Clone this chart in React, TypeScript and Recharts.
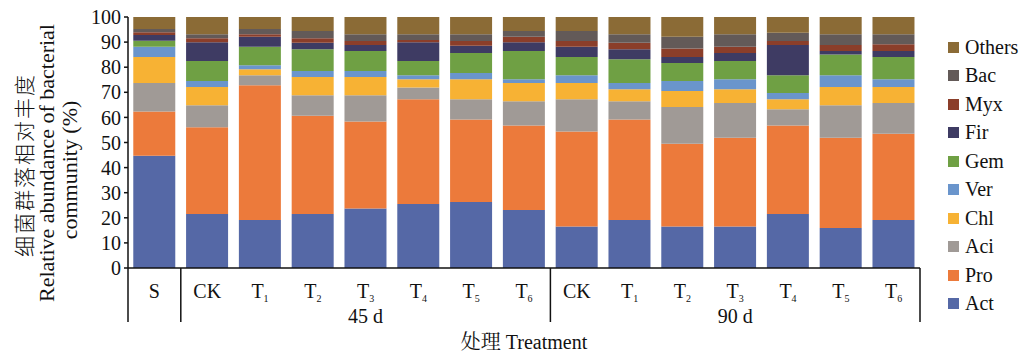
import { BarChart, Bar, XAxis, YAxis, Legend } from "recharts";

const FONT = "'Liberation Serif', 'Times New Roman', 'Noto Serif CJK SC', 'Noto Sans CJK SC', serif";
const CJK = "'Noto Sans CJK SC', 'Noto Sans CJK JP', sans-serif";

// 15 samples: soil S, then CK/T1..T6 at 45 d and at 90 d
const ids = ["S", "CK45", "T1_45", "T2_45", "T3_45", "T4_45", "T5_45", "T6_45", "CK90", "T1_90", "T2_90", "T3_90", "T4_90", "T5_90", "T6_90"];
const labels = ["S", "CK", "T1", "T2", "T3", "T4", "T5", "T6", "CK", "T1", "T2", "T3", "T4", "T5", "T6"];
const groups = ["45 d", "90 d"];

const act = [44.7, 21.5, 19.1, 21.5, 23.7, 25.5, 26.3, 23.1, 16.5, 19.1, 16.5, 16.5, 21.5, 15.9, 19.1];
const pro = [17.7, 34.6, 53.7, 39.2, 34.7, 41.7, 32.9, 33.7, 37.9, 40.1, 33.0, 35.4, 35.3, 36.0, 34.4];
const aci = [11.3, 8.7, 4.0, 8.1, 10.4, 4.7, 8.0, 9.6, 12.8, 7.2, 14.6, 13.8, 6.4, 12.9, 12.2];
const chl = [10.4, 7.3, 2.4, 7.3, 7.3, 3.3, 8.0, 7.3, 6.5, 4.8, 6.4, 5.5, 4.0, 7.3, 6.4];
const ver = [4.0, 2.4, 1.6, 2.4, 2.4, 1.6, 2.5, 1.5, 3.1, 2.5, 4.0, 4.0, 2.5, 4.7, 3.1];
const gem = [2.4, 8.0, 7.3, 8.7, 8.0, 5.7, 8.0, 11.3, 7.3, 9.5, 7.2, 7.3, 7.1, 8.3, 8.9];
const fir = [2.3, 7.4, 4.0, 2.5, 2.3, 7.4, 2.8, 3.4, 4.0, 4.0, 2.4, 3.2, 12.0, 1.4, 2.4];
const myx = [1.1, 1.6, 1.0, 1.8, 1.6, 0.9, 1.9, 2.2, 2.3, 2.5, 3.4, 2.4, 1.6, 2.3, 2.6];
const bac = [1.3, 1.6, 2.1, 2.9, 2.7, 2.3, 2.7, 2.3, 4.0, 3.4, 4.6, 5.0, 3.3, 4.3, 4.0];
const others = [4.8, 6.9, 4.8, 5.6, 6.9, 6.9, 6.9, 5.6, 5.6, 6.9, 7.9, 6.9, 6.3, 6.9, 6.9];

const yTicks = [0, 10, 20, 30, 40, 50, 60, 70, 80, 90, 100];

const series = [
  { key: "Act", values: act, color: "#5568a6" },
  { key: "Pro", values: pro, color: "#ec7a3b" },
  { key: "Aci", values: aci, color: "#a09a96" },
  { key: "Chl", values: chl, color: "#f7b234" },
  { key: "Ver", values: ver, color: "#6a95cc" },
  { key: "Gem", values: gem, color: "#6fa044" },
  { key: "Fir", values: fir, color: "#3e3b63" },
  { key: "Myx", values: myx, color: "#8b3e2a" },
  { key: "Bac", values: bac, color: "#635a58" },
  { key: "Others", values: others, color: "#8b6b36" },
];

const data = ids.map((id, i) => {
  const row: Record<string, string | number> = { id };
  series.forEach((s) => (row[s.key] = s.values[i]));
  return row;
});

function CategoryTick(props: any) {
  const { x, y, payload, index } = props;
  const half = payload?.offset ?? 26.4;
  const label = labels[index];
  const sub = label.startsWith("T") ? label.slice(1) : "";
  const main = sub ? "T" : label;
  const lines: number[] = [];
  if (index === 0) lines.push(x - half);
  if (index === 0 || index === 7 || index === 14) lines.push(x + half);
  return (
    <g>
      <text x={x} y={y + 30} textAnchor="middle" fontFamily={FONT} fontSize={20} fill="#111">
        {main}
        {sub && (
          <tspan fontSize={10} dy={4}>
            {sub}
          </tspan>
        )}
      </text>
      {(index === 4 || index === 11) && (
        <text x={x} y={y + 55} textAnchor="middle" fontFamily={FONT} fontSize={20} fill="#111">
          {groups[index === 4 ? 0 : 1]}
        </text>
      )}
      {lines.map((lx) => (
        <line key={lx} x1={lx} x2={lx} y1={y} y2={y + 54} stroke="#111" strokeWidth={1.5} />
      ))}
    </g>
  );
}

function YTitle() {
  const rows = [
    { text: "细菌群落相对丰度", x: 23, cy: 166, size: 21, family: CJK, len: 182 },
    { text: "Relative abundance of bacterial", x: 46, cy: 163, size: 22, family: FONT, len: 0 },
    { text: "community (%)", x: 69, cy: 170, size: 22, family: FONT, len: 0 },
  ];
  return (
    <g>
      {rows.map((r) => (
        <text
          key={r.text}
          x={r.x}
          y={r.cy}
          transform={`rotate(-90 ${r.x} ${r.cy})`}
          textAnchor="middle"
          dominantBaseline="central"
          fontFamily={r.family}
          fontSize={r.size}
          fontWeight={300}
          fill="#111"
          {...(r.len ? { textLength: r.len, lengthAdjust: "spacing" } : {})}
        >
          {r.text}
        </text>
      ))}
    </g>
  );
}

function LegendBox() {
  return (
    <div style={{ fontFamily: FONT, fontSize: 20, color: "#111" }}>
      {[...series].reverse().map((s) => (
        <div key={s.key} style={{ display: "flex", alignItems: "center", height: 28.5 }}>
          <span style={{ display: "inline-block", width: 11, height: 11, background: s.color, marginRight: 6 }} />
          <span>{s.key}</span>
        </div>
      ))}
    </div>
  );
}

export default function App() {
  return (
    <div style={{ position: "absolute", left: 0, top: 0, width: 1035, height: 355, background: "#fff" }}>
      <BarChart
        width={1035}
        height={355}
        data={data}
        margin={{ top: 17, right: 25, bottom: 0, left: 0 }}
        barCategoryGap="10%"
      >
        <XAxis
          dataKey="id"
          height={87}
          interval={0}
          tickSize={0}
          tickMargin={0}
          tickLine={false}
          axisLine={{ stroke: "#111", strokeWidth: 1.5 }}
          tick={<CategoryTick />}
          label={{ value: "处理 Treatment", position: "insideBottom", offset: 6, fontFamily: FONT, fontSize: 20, fill: "#111" }}
        />
        <YAxis
          width={128}
          domain={[0, 100]}
          ticks={yTicks}
          interval={0}
          tickSize={4}
          tickMargin={3}
          axisLine={{ stroke: "#111", strokeWidth: 1.5 }}
          tickLine={{ stroke: "#111", strokeWidth: 1.5 }}
          tick={{ fontFamily: FONT, fontSize: 20, fill: "#111" }}
          label={<YTitle />}
        />
        <Legend
          layout="vertical"
          align="right"
          verticalAlign="top"
          content={<LegendBox />}
          wrapperStyle={{ position: "absolute", left: 948, top: 33, width: 90 }}
        />
        {series.map((s) => (
          <Bar key={s.key} dataKey={s.key} stackId="a" fill={s.color} isAnimationActive={false} />
        ))}
      </BarChart>
    </div>
  );
}
